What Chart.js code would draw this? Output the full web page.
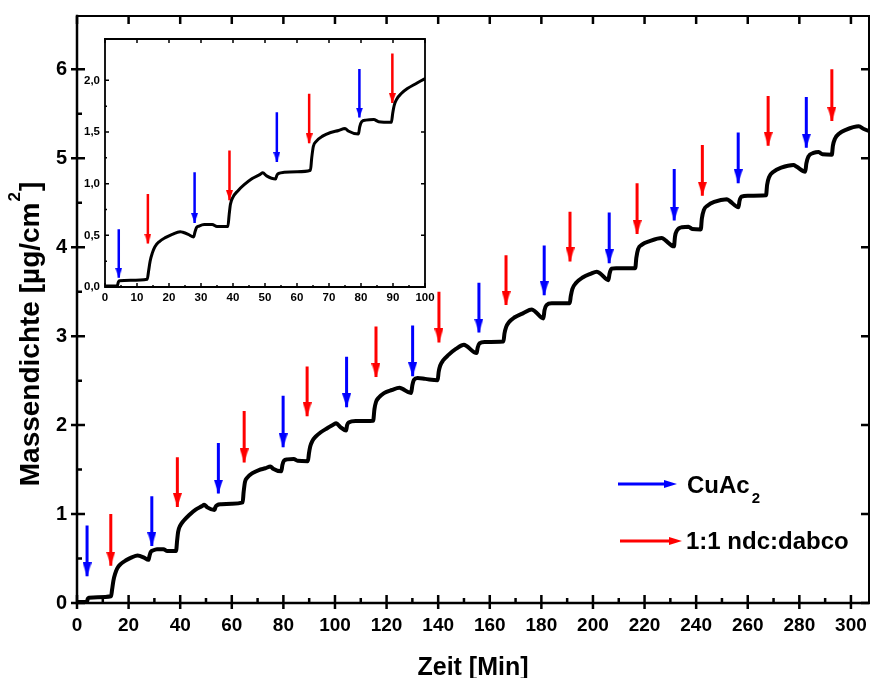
<!DOCTYPE html>
<html>
<head>
<meta charset="utf-8">
<script src="https://cdn.jsdelivr.net/npm/chart.js@4.4.0/dist/chart.umd.min.js"></script>
<style>
  html, body { margin: 0; padding: 0; background: #fff; }
  #wrap { position: relative; width: 870px; height: 678px; overflow: hidden; }
  #main { position: absolute; left: 0; top: 0; }
  #inset { position: absolute; left: 78px; top: 30px; }
</style>
</head>
<body>
<div id="wrap">
  <canvas id="main" width="870" height="678"></canvas>
  <canvas id="inset" width="362" height="275"></canvas>
</div>
<script>
// QCM curve: time [min] vs. mass density [µg/cm²]
const timeMin = [0, 3.8, 4.2, 4.6, 8, 13.2, 13.6, 14.1, 14.8, 15.6, 17, 19, 21, 23.5, 24.3, 26, 27.7,
  28.1, 28.6, 29.4, 31, 33.5, 35, 38.4, 38.8, 39.2, 40, 41.5, 43.5, 46, 48.5, 49.3, 50.5, 53.3,
  53.7, 54.3, 56, 60, 64.2, 64.6, 65.1, 66, 68, 70.5, 73, 75, 76, 79.2,
  79.6, 80.2, 81.5, 84, 85.5, 89.5, 89.9, 90.4, 91.2, 92.5, 94.5, 97, 99.3, 100.5, 102, 104.3,
  104.7, 105.3, 108, 114.8, 115.3, 115.9, 117, 119, 122, 125, 126, 129.5,
  130, 130.6, 132, 135, 139.8, 140.2, 140.8, 142, 144, 147, 150, 151, 154.9,
  155.3, 156, 158, 165.3, 165.7, 166.3, 167.5, 169.5, 173, 176.3, 177.5, 180.8,
  181.2, 182, 184, 191, 191.4, 192, 193.5, 196, 199, 201.5, 203, 206,
  206.4, 207.2, 209, 216.4, 216.8, 217.5, 219, 222, 226.7, 228, 231.4,
  231.8, 232.6, 234.5, 237, 238.5, 241.8, 242.2, 243, 244.5, 247, 251.9, 253, 256.4,
  256.8, 257.6, 260, 267.1, 267.5, 268.3, 270, 273, 277.7, 279, 282.3,
  282.7, 283.5, 285.5, 287.5, 289, 292.6, 293, 293.8, 295.5, 298, 303, 305, 307.5];
const massDensity = [0.01, 0.01, 0.05, 0.06, 0.065, 0.075, 0.15, 0.25, 0.33, 0.39, 0.44, 0.48, 0.51, 0.535, 0.53, 0.51, 0.485,
  0.53, 0.575, 0.59, 0.605, 0.605, 0.585, 0.585, 0.7, 0.8, 0.87, 0.93, 0.99, 1.05, 1.09, 1.105, 1.075, 1.045,
  1.08, 1.1, 1.11, 1.115, 1.13, 1.25, 1.36, 1.41, 1.46, 1.495, 1.515, 1.535, 1.51, 1.48,
  1.55, 1.6, 1.615, 1.62, 1.6, 1.595, 1.68, 1.76, 1.82, 1.87, 1.92, 1.965, 2.005, 2.02, 1.98, 1.94,
  2.0, 2.03, 2.045, 2.05, 2.18, 2.26, 2.31, 2.36, 2.395, 2.42, 2.41, 2.36,
  2.45, 2.51, 2.53, 2.52, 2.505, 2.6, 2.67, 2.73, 2.79, 2.86, 2.905, 2.89, 2.81,
  2.87, 2.92, 2.935, 2.94, 3.03, 3.1, 3.16, 3.21, 3.26, 3.3, 3.28, 3.2,
  3.29, 3.35, 3.37, 3.37, 3.45, 3.53, 3.6, 3.66, 3.7, 3.725, 3.7, 3.63,
  3.7, 3.76, 3.765, 3.765, 3.88, 3.98, 4.03, 4.07, 4.105, 4.08, 4.01,
  4.12, 4.19, 4.225, 4.23, 4.205, 4.2, 4.32, 4.42, 4.47, 4.51, 4.54, 4.52, 4.45,
  4.52, 4.57, 4.58, 4.585, 4.7, 4.79, 4.85, 4.895, 4.925, 4.905, 4.85,
  4.94, 5.02, 5.06, 5.07, 5.045, 5.04, 5.14, 5.22, 5.28, 5.32, 5.36, 5.33, 5.30];

// dosing arrows: x position, arrow top, arrow tip
const cuacX = [3.9, 29.0, 54.8, 79.9, 104.5, 130.1, 155.8, 181.1, 206.3, 231.5, 256.3, 282.7];
const cuacTop = [0.87, 1.20, 1.80, 2.33, 2.77, 3.12, 3.60, 4.02, 4.39, 4.88, 5.29, 5.69];
const cuacTip = [0.30, 0.64, 1.23, 1.75, 2.20, 2.55, 3.04, 3.46, 3.82, 4.30, 4.72, 5.12];
const linkerX = [13.1, 38.9, 64.8, 89.2, 115.9, 140.3, 166.3, 191.1, 217.1, 242.4, 267.9, 292.6];
const linkerTop = [1.00, 1.64, 2.16, 2.66, 3.11, 3.50, 3.91, 4.40, 4.72, 5.15, 5.70, 6.00];
const linkerTip = [0.42, 1.08, 1.58, 2.10, 2.54, 2.93, 3.35, 3.84, 4.15, 4.58, 5.14, 5.42];

const insetCuacX = [4.3, 28.0, 53.7, 79.5];
const insetCuacTop = [0.56, 1.11, 1.69, 2.11];
const insetCuacTip = [0.09, 0.62, 1.21, 1.64];
const insetLinkerX = [13.4, 38.9, 63.8, 89.8];
const insetLinkerTop = [0.90, 1.32, 1.87, 2.26];
const insetLinkerTip = [0.42, 0.84, 1.39, 1.78];

const xTicks = [0, 20, 40, 60, 80, 100, 120, 140, 160, 180, 200, 220, 240, 260, 280, 300];
const yTicks = [0, 1, 2, 3, 4, 5, 6];
const insetXTicks = [0, 10, 20, 30, 40, 50, 60, 70, 80, 90, 100];
const insetYTicks = [0, 0.5, 1, 1.5, 2];

const BLUE = '#0000ff', RED = '#ff0000';
const FONT = "'Liberation Sans', Arial, sans-serif";
Chart.defaults.font.family = FONT;
Chart.defaults.font.weight = 'bold';
Chart.defaults.color = '#000';

function arrowHead(color, w, h) {
  // triangle in the upper half, so the tip sits on the data point
  const c = document.createElement('canvas');
  c.width = w; c.height = 2 * h;
  const g = c.getContext('2d');
  g.fillStyle = color;
  g.beginPath(); g.moveTo(0, 0); g.lineTo(w, 0); g.lineTo(w / 2, h); g.closePath(); g.fill();
  return c;
}

function arrowSet(xs, tops, tips, color, head, width) {
  return {
    data: xs.flatMap((x, i) => [{x, y: tops[i]}, {x, y: tips[i]}, {x, y: null}]),
    borderColor: color, borderWidth: width, borderCapStyle: 'butt',
    pointStyle: c => c.dataIndex % 3 === 1 ? head : 'circle',
    pointRadius: c => c.dataIndex % 3 === 1 ? 2 : 0,
    pointHoverRadius: 0, tension: 0, spanGaps: false, fill: false
  };
}

function curveSet(width) {
  return {
    data: timeMin.map((t, i) => ({x: t, y: massDensity[i]})),
    borderColor: '#000', borderWidth: width, pointRadius: 0,
    cubicInterpolationMode: 'monotone', fill: false
  };
}

const mids = arr => arr.slice(1).map((v, i) => (v + arr[i]) / 2);

function frameTicks(o) {
  return {
    id: 'frameTicks',
    afterDraw(chart) {
      const {ctx, chartArea: a, scales: {x, y}} = chart;
      ctx.save();
      ctx.strokeStyle = '#000';
      ctx.lineCap = 'square';
      ctx.lineWidth = o.frame;
      ctx.beginPath();
      ctx.moveTo(a.left, a.top); ctx.lineTo(a.right, a.top); ctx.lineTo(a.right, a.bottom);
      ctx.stroke();
      ctx.lineWidth = o.axis;
      ctx.beginPath();
      ctx.moveTo(a.left, a.top); ctx.lineTo(a.left, a.bottom); ctx.lineTo(a.right, a.bottom);
      ctx.stroke();
      ctx.lineCap = 'butt';
      ctx.lineWidth = o.tick;
      ctx.beginPath();
      x.ticks.forEach(t => {
        const p = x.getPixelForValue(t.value);
        ctx.moveTo(p, a.bottom + o.out); ctx.lineTo(p, a.bottom - o.major);
        ctx.moveTo(p, a.top); ctx.lineTo(p, a.top + o.major);
      });
      mids(x.ticks.map(t => t.value)).forEach(v => {
        const p = x.getPixelForValue(v);
        ctx.moveTo(p, a.bottom); ctx.lineTo(p, a.bottom - o.minor);
      });
      y.ticks.forEach(t => {
        const p = y.getPixelForValue(t.value);
        ctx.moveTo(a.left - o.out, p); ctx.lineTo(a.left + o.major, p);
        ctx.moveTo(a.right, p); ctx.lineTo(a.right - o.major, p);
      });
      mids(y.ticks.map(t => t.value)).forEach(v => {
        const p = y.getPixelForValue(v);
        ctx.moveTo(a.left, p); ctx.lineTo(a.left + o.minor, p);
      });
      ctx.stroke();
      ctx.restore();
    }
  };
}

function drawArrow(ctx, x1, x2, y, color) {
  ctx.strokeStyle = color; ctx.fillStyle = color;
  ctx.lineWidth = 3;
  ctx.beginPath(); ctx.moveTo(x1, y); ctx.lineTo(x2 - 8, y); ctx.stroke();
  ctx.beginPath(); ctx.moveTo(x2 - 13, y - 4); ctx.lineTo(x2, y); ctx.lineTo(x2 - 13, y + 4); ctx.closePath(); ctx.fill();
}

const mainText = {
  id: 'mainText',
  afterDraw(chart) {
    const {ctx, chartArea: a} = chart;
    ctx.save();
    ctx.fillStyle = '#000';
    ctx.textBaseline = 'alphabetic';
    ctx.textAlign = 'center';
    ctx.font = `bold 25px ${FONT}`;
    ctx.fillText('Zeit [Min]', (a.left + a.right) / 2, 675);

    // y title with raised exponent
    ctx.save();
    ctx.translate(39, 334);
    ctx.rotate(-Math.PI / 2);
    ctx.textAlign = 'left';
    const big = `bold 28px ${FONT}`, small = `bold 17px ${FONT}`;
    ctx.font = big;
    const w1 = ctx.measureText('Massendichte [µg/cm').width;
    const w3 = ctx.measureText(']').width;
    ctx.font = small;
    const w2 = ctx.measureText('2').width;
    let x0 = -(w1 + w2 + w3 + 2) / 2;
    ctx.font = big; ctx.fillText('Massendichte [µg/cm', x0, 0);
    ctx.font = small; ctx.fillText('2', x0 + w1 + 1, -19);
    ctx.font = big; ctx.fillText(']', x0 + w1 + w2 + 2, 0);
    ctx.restore();

    // legend
    drawArrow(ctx, 618, 677, 484, BLUE);
    drawArrow(ctx, 620, 682, 541, RED);
    ctx.fillStyle = '#000';
    ctx.textAlign = 'left';
    ctx.font = `bold 24px ${FONT}`;
    ctx.fillText('CuAc', 687, 493);
    const wc = ctx.measureText('CuAc').width;
    ctx.font = `bold 15px ${FONT}`;
    ctx.fillText('2', 687 + wc + 2, 503);
    ctx.font = `bold 24px ${FONT}`;
    ctx.fillText('1:1 ndc:dabco', 686, 549);
    ctx.restore();
  }
};

const fixTicks = list => scale => { scale.ticks = list.map(v => ({value: v})); };
const noPad = s => { s.paddingLeft = 0; s.paddingRight = 0; s.paddingTop = 0; s.paddingBottom = 0; };

new Chart(document.getElementById('main'), {
  type: 'line',
  data: {
    datasets: [
      curveSet(4),
      arrowSet(cuacX, cuacTop, cuacTip, BLUE, arrowHead(BLUE, 9, 14), 3),
      arrowSet(linkerX, linkerTop, linkerTip, RED, arrowHead(RED, 9, 14), 3)
    ]
  },
  options: {
    responsive: false, animation: false, events: [],
    layout: {padding: {top: 16, right: 1, left: 0, bottom: 0}},
    plugins: {legend: {display: false}, tooltip: {enabled: false}},
    scales: {
      x: {
        type: 'linear', min: 0, max: 307,
        afterBuildTicks: fixTicks(xTicks),
        afterFit: s => { s.height = 75; noPad(s); },
        grid: {display: false, drawTicks: false}, border: {display: false},
        ticks: {font: {size: 19, weight: 'bold'}, padding: 11, maxRotation: 0, autoSkip: false}
      },
      y: {
        type: 'linear', min: 0, max: 6.6,
        afterBuildTicks: fixTicks(yTicks),
        afterFit: s => { s.width = 77; noPad(s); },
        grid: {display: false, drawTicks: false}, border: {display: false},
        ticks: {font: {size: 20, weight: 'bold'}, padding: 10}
      }
    }
  },
  plugins: [frameTicks({frame: 2, axis: 2.5, tick: 2.5, out: 6, major: 8, minor: 5}), mainText]
});

new Chart(document.getElementById('inset'), {
  type: 'line',
  data: {
    datasets: [
      curveSet(3),
      arrowSet(insetCuacX, insetCuacTop, insetCuacTip, BLUE, arrowHead(BLUE, 7, 10), 2.5),
      arrowSet(insetLinkerX, insetLinkerTop, insetLinkerTip, RED, arrowHead(RED, 7, 10), 2.5)
    ]
  },
  options: {
    responsive: false, animation: false, events: [],
    layout: {padding: {top: 9, right: 15, left: 0, bottom: 0}},
    plugins: {legend: {display: false}, tooltip: {enabled: false}},
    scales: {
      x: {
        type: 'linear', min: 0, max: 100,
        afterBuildTicks: fixTicks(insetXTicks),
        afterFit: s => { s.height = 18; noPad(s); },
        grid: {display: false, drawTicks: false}, border: {display: false},
        ticks: {font: {size: 11.5, weight: 'bold'}, padding: 4, maxRotation: 0, autoSkip: false}
      },
      y: {
        type: 'linear', min: 0, max: 2.4,
        afterBuildTicks: fixTicks(insetYTicks),
        afterFit: s => { s.width = 27; noPad(s); },
        grid: {display: false, drawTicks: false}, border: {display: false},
        ticks: {font: {size: 11.5, weight: 'bold'}, padding: 5,
          callback: v => v.toFixed(1).replace('.', ',')}
      }
    }
  },
  plugins: [frameTicks({frame: 1.8, axis: 1.8, tick: 1.5, out: 0, major: 4, minor: 2})]
});
</script>
</body>
</html>
